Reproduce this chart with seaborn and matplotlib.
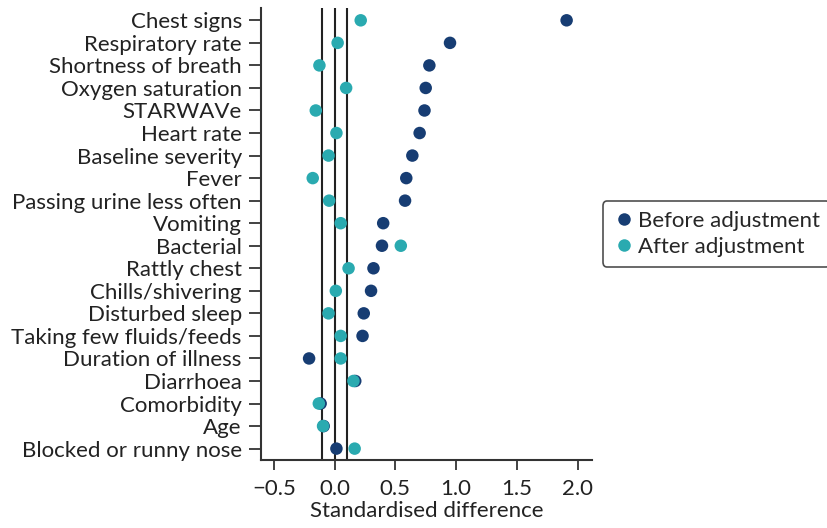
import matplotlib
matplotlib.use("Agg")
import matplotlib.pyplot as plt
import seaborn as sns
import pandas as pd

variables = [
    "Chest signs", "Respiratory rate", "Shortness of breath", "Oxygen saturation",
    "STARWAVe", "Heart rate", "Baseline severity", "Fever",
    "Passing urine less often", "Vomiting", "Bacterial", "Rattly chest",
    "Chills/shivering", "Disturbed sleep", "Taking few fluids/feeds",
    "Duration of illness", "Diarrhoea", "Comorbidity", "Age",
    "Blocked or runny nose",
]
before = [1.91, 0.95, 0.78, 0.75, 0.74, 0.70, 0.64, 0.59, 0.58, 0.40,
          0.39, 0.32, 0.30, 0.24, 0.23, -0.21, 0.17, -0.115, -0.09, 0.015]
after = [0.215, 0.025, -0.125, 0.095, -0.155, 0.015, -0.05, -0.18, -0.045, 0.05,
         0.545, 0.115, 0.01, -0.05, 0.05, 0.05, 0.155, -0.13, -0.095, 0.165]
groups = ["Before adjustment", "After adjustment"]
palette = {"Before adjustment": "#173d73", "After adjustment": "#2aaab0"}
ref_lines = [-0.1, 0.0, 0.1]
x_ticks = [-0.5, 0.0, 0.5, 1.0, 1.5, 2.0]
x_labels = ["\u22120.5", "0.0", "0.5", "1.0", "1.5", "2.0"]

df = pd.DataFrame({
    "variable": variables * 2,
    "diff": before + after,
    "group": [groups[0]] * len(before) + [groups[1]] * len(after),
})

sns.set_theme(style="white")
plt.rcParams["font.family"] = ["Lato", "DejaVu Sans"]

fig = plt.figure(figsize=(8.27, 5.28), dpi=100)
ax = fig.add_axes([0.315, 0.129, 0.401, 0.856])

for x in ref_lines:
    ax.axvline(x, color="#222222", lw=1.5, zorder=1)

sns.stripplot(data=df, x="diff", y="variable", hue="group", order=variables,
              hue_order=groups, palette=palette, jitter=False, dodge=False,
              size=9, linewidth=0, ax=ax, zorder=3)

ax.set_xlim(-0.61, 2.12)
ax.set_ylim(len(variables) - 0.5, -0.55)
ax.set_xticks(x_ticks)
ax.set_xticklabels(x_labels)
ax.set_xlabel("Standardised difference", fontsize=16, color="#222222", labelpad=2)
ax.set_ylabel("")
ax.tick_params(axis="both", labelsize=16, colors="#222222", width=1.2,
               direction="out", bottom=True, left=True)
ax.tick_params(axis="y", length=8.5, pad=5)
ax.tick_params(axis="x", length=7.5, pad=6)
for side in ["top", "right"]:
    ax.spines[side].set_visible(False)
for side in ["left", "bottom"]:
    ax.spines[side].set_color("#333333")
    ax.spines[side].set_linewidth(1.5)

ax.legend_.remove()
handles, labels = ax.get_legend_handles_labels()
leg = fig.legend(handles[:2], labels[:2], loc="center left",
                 bbox_to_anchor=(0.729, 0.557), fontsize=16, frameon=True,
                 handletextpad=0.15, handlelength=1.0, borderpad=0.45,
                 labelspacing=0.25, fancybox=True, markerscale=1.0,
                 borderaxespad=0)
leg.get_frame().set_edgecolor("#222222")
leg.get_frame().set_linewidth(1.2)

fig.savefig("out.png", dpi=100)
